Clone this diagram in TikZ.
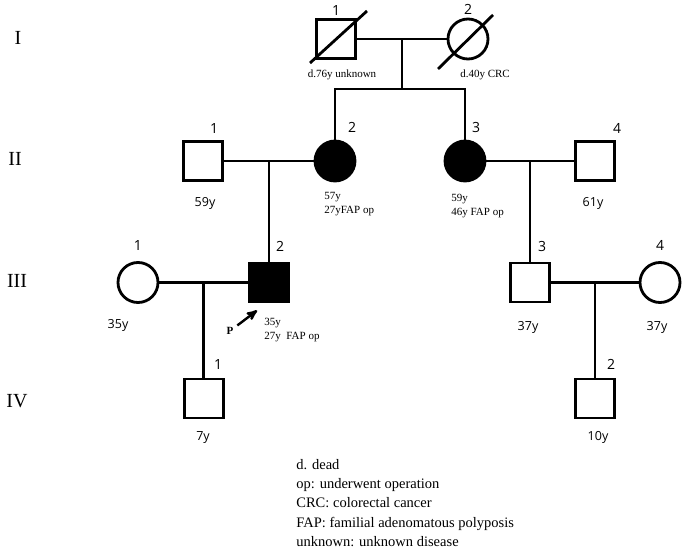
\documentclass[tikz,border=0pt]{standalone}
\usepackage{fontspec}
\setmainfont{Liberation Serif}
\newfontfamily\numfont{Open Sans}
\usetikzlibrary{arrows,calc,positioning}

\begin{document}
\begin{tikzpicture}[x=1pt,y=-1pt,>=stealth',line width=2.8pt,
	male/.style={draw,rectangle,minimum size=39pt,inner sep=0pt},
	female/.style={draw,circle,minimum size=40pt,inner sep=0pt},
	affected/.style={fill=black},
	num/.style={font=\numfont\fontsize{14}{16}\selectfont},
	age/.style={font=\numfont\fontsize{12.5}{14}\selectfont,inner sep=0pt},
	note/.style={font=\fontsize{11}{14}\selectfont,align=left,inner sep=0pt},
	gen/.style={font=\fontsize{20}{22}\selectfont},
	legend/.style={font=\fontsize{14.5}{19.2}\selectfont,align=left,inner sep=0pt}]
	\useasboundingbox (0,0) rectangle (685,553);
	% generations
	\node[gen] (gen_I) at (18,38) {I};
	\node[gen] (gen_II) at (15,159) {II};
	\node[gen] (gen_III) at (17,281) {III};
	\node[gen] (gen_IV) at (17,401) {IV};
	% individuals
	\node[male,label={[num,yshift=-2pt]above:1}] (I_1) at (336,39) {};
	\node[female,label={[num,yshift=-2pt]above:2}] (I_2) at (468,39) {};
	\node[male,label={[num,xshift=11pt,yshift=2pt]above:1}] (II_1) at (203,161) {};
	\node[female,affected,label={[num,xshift=17pt,yshift=2pt]above:2}] (II_2) at (335,161) {};
	\node[female,affected,label={[num,xshift=11pt,yshift=2pt]above:3}] (II_3) at (465,161) {};
	\node[male,label={[num,xshift=22pt,yshift=2pt]above:4}] (II_4) at (595,161) {};
	\node[female,label={[num,yshift=5.5pt]above:1}] (III_1) at (138,282.5) {};
	\node[male,affected,label={[num,xshift=11pt,yshift=5.5pt]above:2}] (III_2) at (269,282.5) {};
	\node[male,label={[num,xshift=12pt,yshift=5.5pt]above:3}] (III_3) at (530,282.5) {};
	\node[female,label={[num,yshift=5.5pt]above:4}] (III_4) at (660,282.5) {};
	\node[male,label={[num,xshift=14pt,yshift=3.5pt]above:1}] (IV_1) at (204,398.5) {};
	\node[male,label={[num,xshift=16pt,yshift=3.5pt]above:2}] (IV_2) at (595,398.5) {};
	% deceased
	\draw ($(I_1)+(-26,24)$) -- ($(I_1)+(31,-28)$);
	\draw ($(I_2)+(-30,30)$) -- ($(I_2)+(25,-24)$);
	% ages
	\node[age,below=14pt of II_1,xshift=2pt] (a_II_1) {59y};
	\node[age,below=14pt of II_4,xshift=-2pt] (a_II_4) {61y};
	\node[age,below=14pt of III_1,xshift=-20pt] (a_III_1) {35y};
	\node[age,below=16.5pt of III_3,xshift=-2pt] (a_III_3) {37y};
	\node[age,below=16.5pt of III_4,xshift=-3pt] (a_III_4) {37y};
	\node[age,below=10.5pt of IV_1,xshift=-1pt] (a_IV_1) {7y};
	\node[age,below=10.5pt of IV_2,xshift=3pt] (a_IV_2) {10y};
	% notes
	\node[note,below=8.5pt of I_1,xshift=6pt] (n_I_1) {d.76y unknown};
	\node[note,below=8.5pt of I_2,xshift=17pt] (n_I_2) {d.40y CRC};
	\node[note,anchor=north west] (n_II_2) at (323,190.5) {57y\\27yFAP op};
	\node[note,anchor=north west] (n_II_3) at (450,192.5) {59y\\46y FAP op};
	\node[note,anchor=north west] (n_III_2) at (263,316.5) {35y\\27y\ \ FAP op};
	% proband
	\node[font=\bfseries\fontsize{11}{12}\selectfont,inner sep=1pt] (P) at (230,331) {P};
	\coordinate (p_tip) at (257,310.5);
	\draw[->,line width=2.4pt,shorten <=2pt] (P) -- (p_tip);
	% lines
	\coordinate (m_I) at ($(I_1)!0.5!(I_2)$);
	\coordinate (m_II) at ($(II_1)!0.5!(II_2)$);
	\coordinate (m_IIb) at ($(II_3)!0.5!(II_4)$);
	\coordinate (m_III) at ($(III_1)!0.5!(III_2)$);
	\coordinate (m_IIIb) at ($(III_3)!0.5!(III_4)$);
	\draw (I_1) -- (I_2);
	\draw (m_I) -- ++(0,50) coordinate (s_I);
	\draw (II_2.north) |- (s_I) -| (II_3.north);
	\draw (II_1) -- (II_2);
	\draw (m_II) -- (m_II |- III_2.north);
	\draw (II_3) -- (II_4);
	\draw (m_IIb) -- (m_IIb |- III_3.north);
	\draw (III_1) -- (III_2);
	\draw (m_III) -- (m_III |- IV_1.north);
	\draw (III_3) -- (III_4);
	\draw (m_IIIb) -- (m_IIIb |- IV_2.north);
	% legend
	\node[legend,anchor=north west] (legend) at (295,458) {d. dead\\op: underwent operation\\CRC: colorectal cancer\\FAP: familial adenomatous polyposis\\unknown: unknown disease};
\end{tikzpicture}
\end{document}
